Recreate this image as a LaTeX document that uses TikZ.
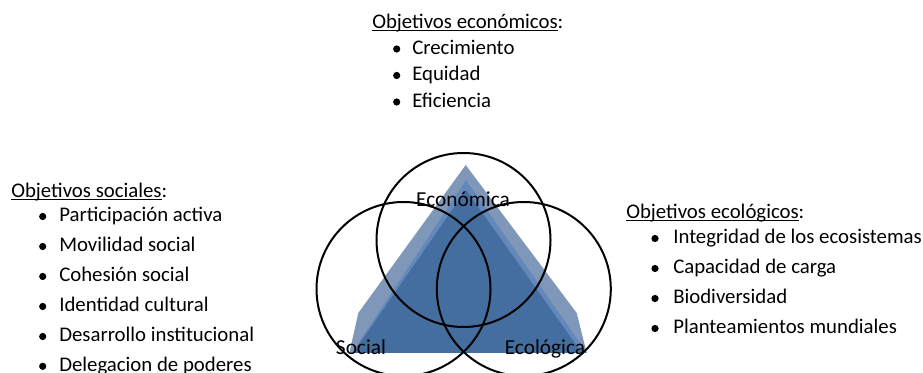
\documentclass[tikz,border=0pt]{standalone}
\usepackage{fontspec}
\setmainfont{Carlito}
\newcommand\myul[1]{\setbox0\hbox{#1}\rlap{\rule[-1.8pt]{\wd0}{0.7pt}}\box0}
\begin{document}
\begin{tikzpicture}[x=0.75pt,y=-0.75pt,
  txt/.style={anchor=base west,inner sep=0pt,font=\fontsize{15.6}{17}\selectfont},
  bul/.style={circle,fill=black,inner sep=0pt,minimum size=5.4pt},
  lbl/.style={anchor=base,inner sep=0pt,font=\fontsize{16}{18}\selectfont,text=black},
  ring/.style={draw=black,line width=1.5pt}]
\useasboundingbox (0,0) rectangle (923,373);
% triangles
\fill[fill={rgb,255:red,127;green,152;blue,186}] (465.7,165) -- (576.7,313) -- (586.7,353) -- (349.3,353) -- (358.3,313) -- cycle;
\fill[fill={rgb,255:red,100;green,136;blue,186}] (466,180) -- (587,353) -- (352,353) -- cycle;
\fill[fill={rgb,255:red,68;green,110;blue,160}] (466,190) -- (582,353) -- (353,353) -- cycle;
% circles
\node[ring,circle,minimum size=174pt*0.75,inner sep=0pt] (eco) at (463.5,240) {};
\node[ring,circle,minimum size=174pt*0.75,inner sep=0pt] (soc) at (403.5,289) {};
\node[ring,circle,minimum size=174pt*0.75,inner sep=0pt] (ecl) at (523.8,289) {};
% labels
\node[lbl] (leco) at (463,207) {Económica};
\node[lbl] (lsoc) at (361,354) {Social};
\node[lbl] (lecl) at (545,354) {Ecológica};
% top
\node[txt] (h1) at (372,29) {\myul{Objetivos económicos}:};
\foreach \t/\y [count=\i] in {Crecimiento/54.5,Equidad/81,Eficiencia/107.5}{
  \node[bul] (b1\i) at (396.7,\y-5.5) {};
  \node[txt] (t1\i) at (412,\y) {\t};
}
% left
\node[txt] (h2) at (11,198) {\myul{Objetivos sociales}:};
\foreach \t/\y [count=\i] in {Participación activa/222,Movilidad social/252,Cohesión social/282,Identidad cultural/312,Desarrollo institucional/342,Delegacion de poderes/371.8}{
  \node[bul] (b2\i) at (42.7,\y-5.5) {};
  \node[txt] (t2\i) at (59,\y) {\t};
}
% right
\node[txt] (h3) at (626,218.3) {\myul{Objetivos ecológicos}:};
\foreach \t/\y [count=\i] in {Integridad de los ecosistemas/244,Capacidad de carga/274,Biodiversidad/304,Planteamientos mundiales/334}{
  \node[bul] (b3\i) at (655,\y-5.5) {};
  \node[txt] (t3\i) at (673,\y) {\t};
}
\end{tikzpicture}
\end{document}
